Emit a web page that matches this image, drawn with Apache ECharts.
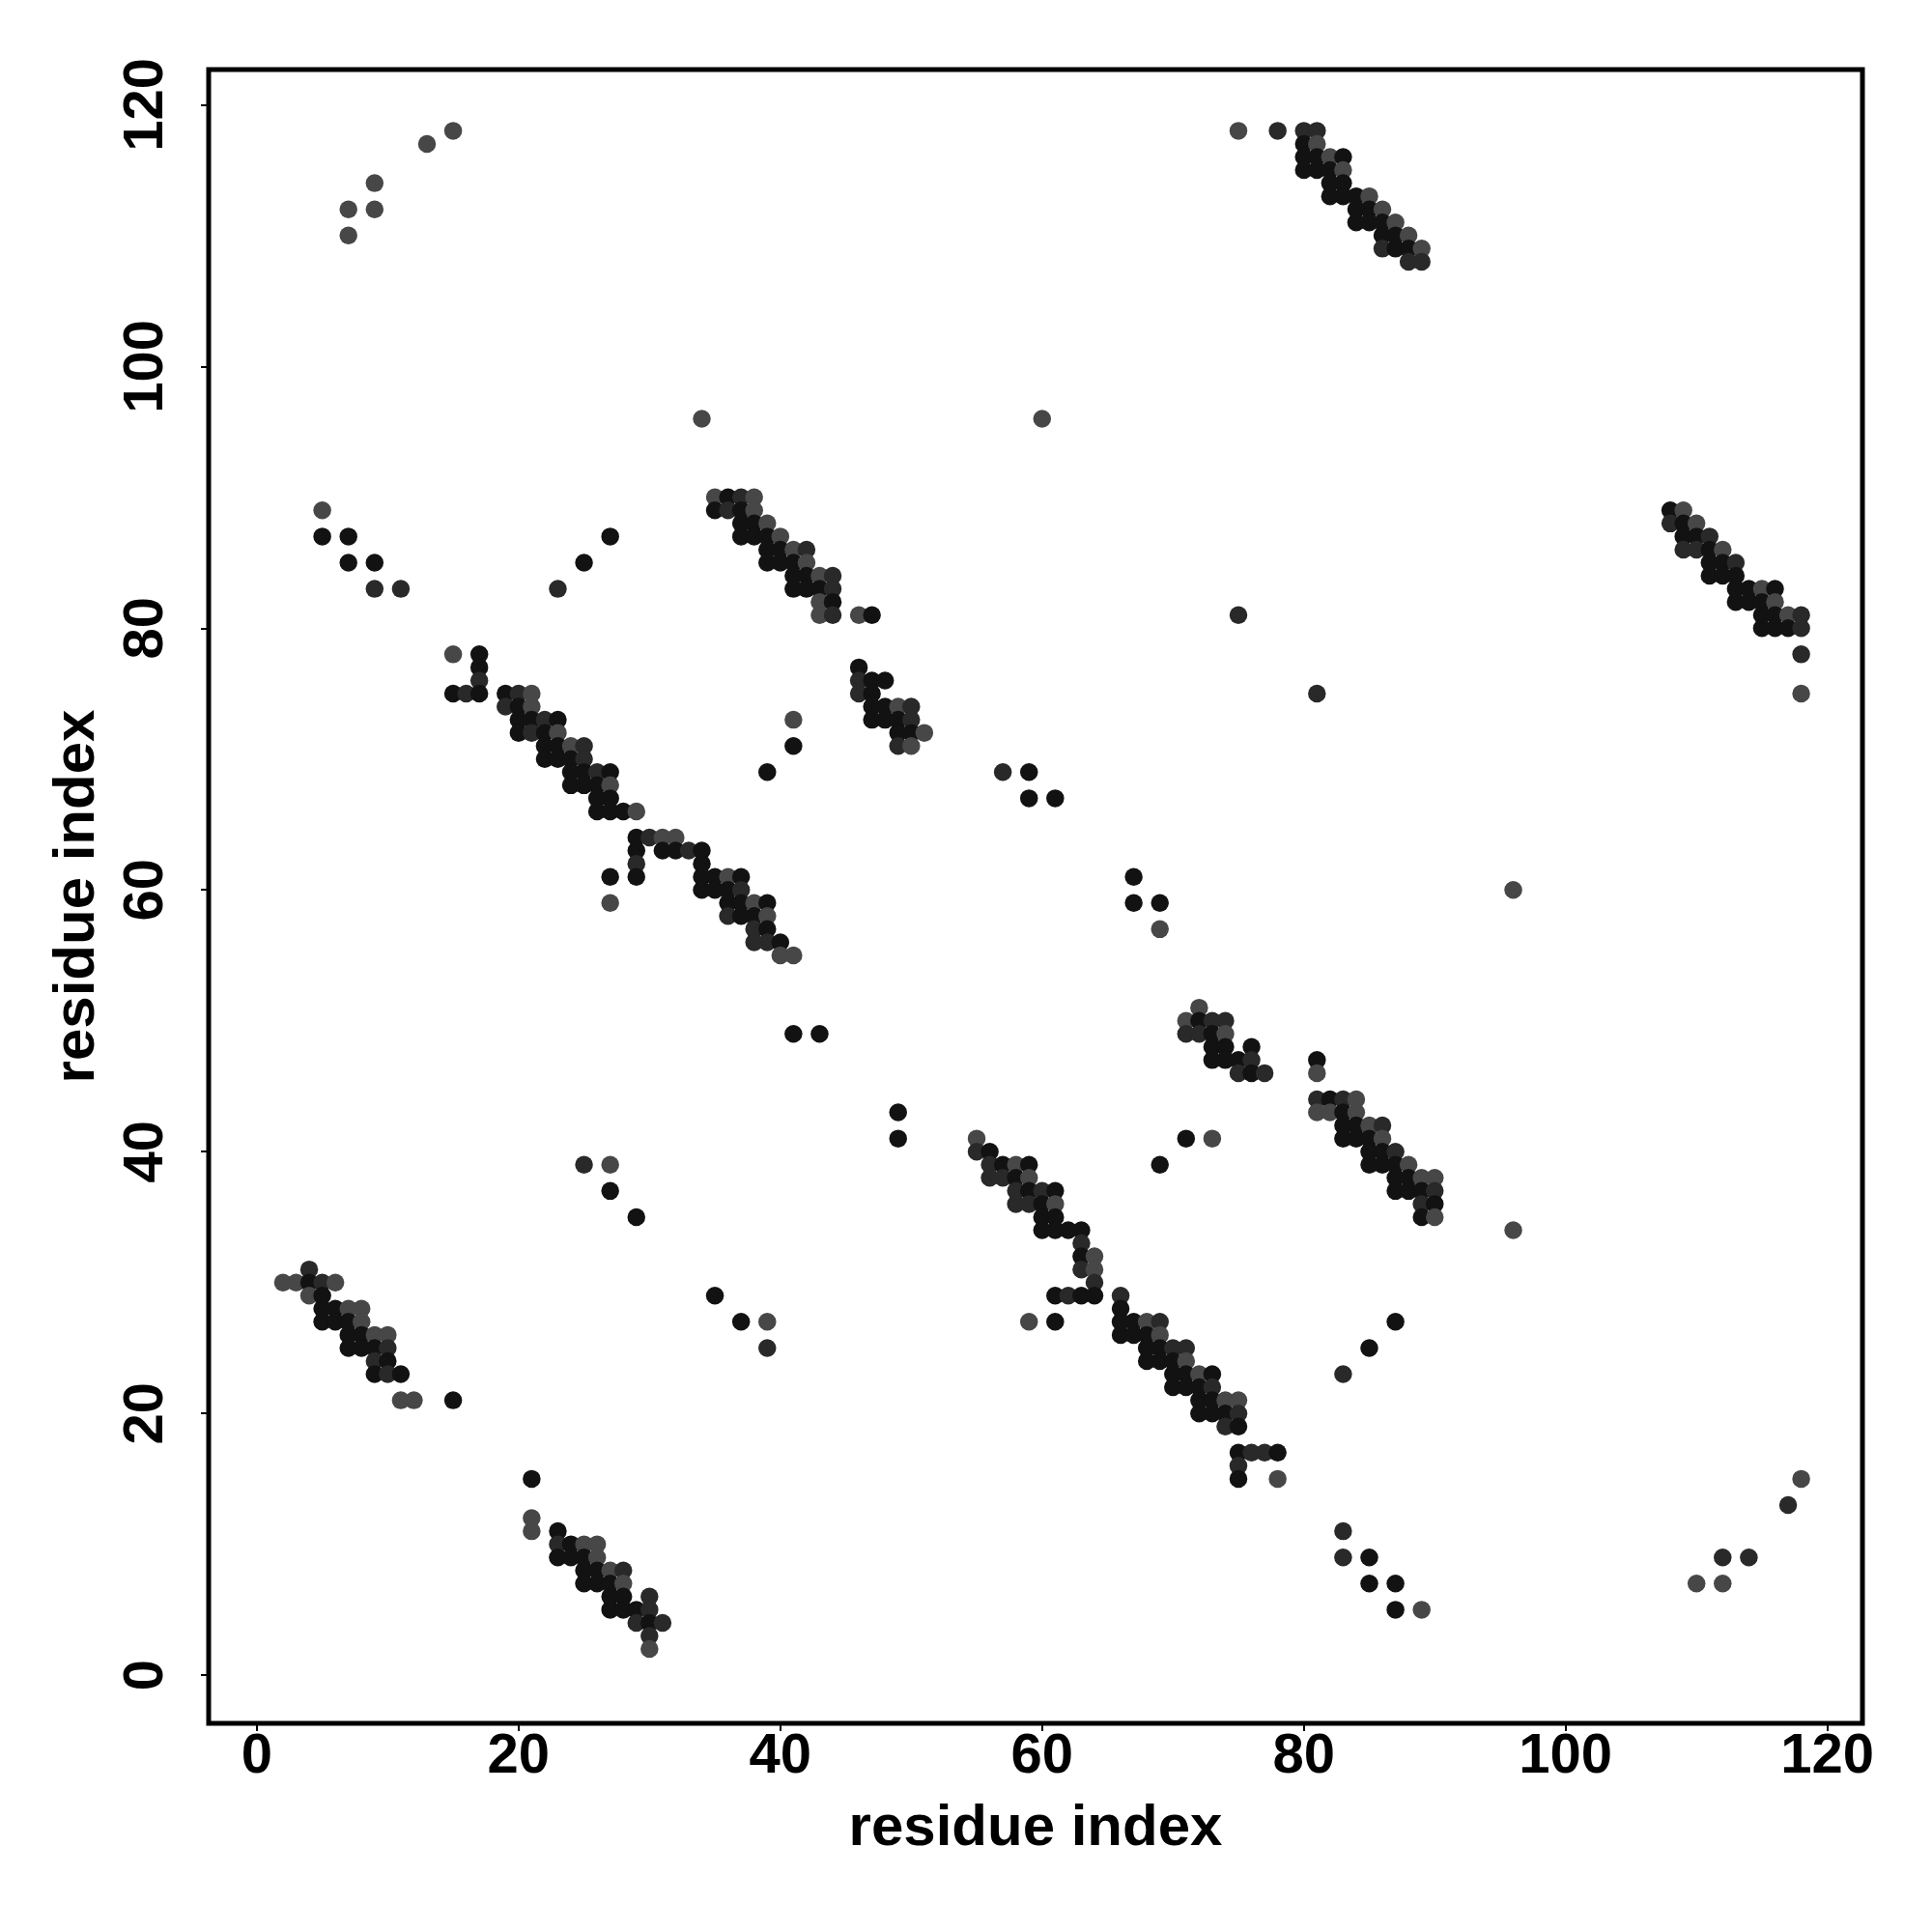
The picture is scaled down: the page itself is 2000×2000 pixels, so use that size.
<!DOCTYPE html>
<html><head><meta charset="utf-8">
<script src="https://cdn.jsdelivr.net/npm/echarts@6/dist/echarts.min.js"></script>
<style>html,body{margin:0;padding:0;background:#fff}#c{width:2000px;height:2000px}</style>
</head><body><div id="c"></div>
<script>
// tick labels
const tickValues = [0, 20, 40, 60, 80, 100, 120];
// shade levels: 1 = black, 2 = dark grey, 3 = grey
const shadeColors = {1: '#121212', 2: '#292929', 3: '#474747'};

// contacts [x, y, shade]
const clusterA = [
[75,118,3],[78,118,2],[80,118,2],[81,118,2],
[80,117,1],[81,117,3],
[80,116,1],[81,116,1],[82,116,3],[83,116,1],
[80,115,1],[81,115,1],[82,115,1],[83,115,3],
[82,114,1],[83,114,1],
[82,113,1],[83,113,1],[84,113,1],[85,113,3],
[84,112,1],[85,112,1],[86,112,3],
[84,111,1],[85,111,1],[86,111,1],[87,111,3],
[86,110,1],[87,110,1],[88,110,3],
[86,109,2],[87,109,1],[88,109,1],[89,109,3],
[88,108,2],[89,108,2]
];
const clusterB = [
[35,90,3],[36,90,1],[37,90,2],[38,90,3],
[35,89,1],[36,89,2],[37,89,1],[38,89,3],
[37,88,1],[38,88,1],[39,88,3],
[37,87,1],[38,87,1],[39,87,1],[40,87,3],
[39,86,1],[40,86,1],[41,86,3],[42,86,2],
[39,85,1],[40,85,1],[41,85,1],[42,85,3],
[41,84,1],[42,84,1],[43,84,3],[44,84,2],
[41,83,1],[42,83,1],[43,83,1],[44,83,2],
[43,82,3],[44,82,1],
[43,81,3],[44,81,2],[46,81,3],[47,81,1],
[46,77,1],
[46,76,2],[47,76,1],[48,76,1],
[46,75,2],[47,75,1],
[47,74,1],[48,74,1],[49,74,3],[50,74,2],
[47,73,1],[48,73,1],[49,73,1],[50,73,2],
[49,72,1],[50,72,1],[51,72,3],
[49,71,2],[50,71,3],
[41,73,3],[41,71,1],[39,69,1]
];
const clusterC = [
[15,78,3],[17,78,1],[17,77,1],[17,76,2],
[15,75,1],[16,75,2],[17,75,1],
[19,75,1],[20,75,2],[21,75,3],
[19,74,2],[20,74,1],[21,74,3],
[20,73,1],[21,73,1],[22,73,2],[23,73,1],
[20,72,1],[21,72,2],[22,72,1],[23,72,3],
[22,71,1],[23,71,1],[24,71,3],[25,71,2],
[22,70,1],[23,70,1],[24,70,1],[25,70,2],
[24,69,1],[25,69,1],[26,69,2],[27,69,1],
[24,68,1],[25,68,1],[26,68,1],[27,68,3],
[26,67,1],[27,67,1],
[26,66,1],[27,66,1],[28,66,1],[29,66,3],
[29,64,1],[30,64,2],[31,64,3],[32,64,3],
[29,63,1],[31,63,1],[32,63,1],[33,63,2],[34,63,1],
[29,62,2],[34,62,1],
[27,61,1],[29,61,1],[34,61,1],[35,61,1],[36,61,3],[37,61,1],
[34,60,1],[35,60,1],[36,60,1],[37,60,2],
[27,59,3],[36,59,1],[37,59,1],[38,59,3],[39,59,1],
[36,58,2],[37,58,1],[38,58,1],[39,58,3],
[38,57,2],[39,57,1],
[38,56,2],[39,56,2],[40,56,1],
[40,55,3],[41,55,3]
];
const clusterD = [
[108,89,1],[109,89,3],
[108,88,2],[109,88,1],[110,88,3],
[109,87,1],[110,87,1],[111,87,2],
[109,86,2],[110,86,2],[111,86,1],[112,86,3],
[111,85,1],[112,85,1],[113,85,2],
[111,84,1],[112,84,1],[113,84,1],
[113,83,1],[114,83,1],[115,83,3],[116,83,1],
[113,82,1],[114,82,1],[115,82,1],[116,82,3],
[115,81,1],[116,81,1],[117,81,3],[118,81,2],
[115,80,1],[116,80,1],[117,80,1],[118,80,2],
[118,78,2],[118,75,3]
];
const clusterE = [
[55,41,3],[55,40,2],[56,40,1],
[56,39,2],[57,39,1],[58,39,3],[59,39,1],
[56,38,2],[57,38,2],[58,38,1],[59,38,3],
[58,37,2],[59,37,1],[60,37,2],[61,37,1],
[58,36,2],[59,36,2],[60,36,1],[61,36,3],
[60,35,1],[61,35,1],
[60,34,1],[61,34,1],[62,34,1],[63,34,1],
[63,33,2],
[63,32,1],[64,32,3],
[63,31,2],[64,31,3],
[64,30,2],
[61,29,1],[62,29,2],[63,29,1],[64,29,1],
[59,27,3],[61,27,1],
[66,29,2],[66,28,1],
[66,27,1],[67,27,1],[68,27,3],[69,27,2],
[66,26,1],[67,26,1],[68,26,1],[69,26,3],
[68,25,1],[69,25,1],[70,25,2],[71,25,2],
[68,24,1],[69,24,1],[70,24,1],[71,24,3],
[70,23,1],[71,23,1],[72,23,3],[73,23,1],
[70,22,1],[71,22,1],[72,22,1],[73,22,2],
[72,21,1],[73,21,1],[74,21,3],[75,21,3],
[72,20,1],[73,20,1],[74,20,1],[75,20,2],
[74,19,2],[75,19,1],
[75,17,1],[76,17,2],[77,17,2],[78,17,1],
[75,16,2],
[75,15,1],[78,15,3]
];
const clusterF = [
[72,51,3],
[71,50,3],[72,50,1],[73,50,2],[74,50,2],
[71,49,2],[72,49,2],[73,49,1],[74,49,3],
[73,48,1],[74,48,1],[76,48,1],
[73,47,1],[74,47,1],[75,47,1],[76,47,2],
[75,46,2],[76,46,1],[77,46,2],
[81,47,1],[81,46,3],
[81,44,2],[82,44,1],[83,44,2],[84,44,3],
[81,43,3],[82,43,3],[83,43,1],[84,43,3],
[83,42,1],[84,42,1],[85,42,3],[86,42,2],
[83,41,1],[84,41,1],[85,41,1],[86,41,3],
[85,40,1],[86,40,1],[87,40,2],
[85,39,1],[86,39,1],[87,39,1],[88,39,3],
[87,38,1],[88,38,1],[89,38,3],[90,38,3],
[87,37,1],[88,37,1],[89,37,1],[90,37,2],
[89,36,2],[90,36,1],
[89,35,1],[90,35,3],
[71,41,1],[73,41,3],[69,39,1]
];
const clusterG = [
[4,31,2],
[2,30,3],[3,30,3],[4,30,1],[5,30,2],[6,30,3],
[4,29,3],[5,29,1],
[5,28,1],[6,28,1],[7,28,3],[8,28,3],
[5,27,1],[6,27,1],[7,27,1],[8,27,3],
[7,26,1],[8,26,1],[9,26,3],[10,26,3],
[7,25,1],[8,25,1],[9,25,1],[10,25,2],
[9,24,2],[10,24,1],
[9,23,1],[10,23,2],[11,23,1],
[11,21,3],[12,21,3],[15,21,1]
];
const clusterH = [
[21,15,1],[21,12,3],[21,11,3],
[23,11,1],
[23,10,2],[24,10,1],[25,10,3],[26,10,3],
[23,9,1],[24,9,1],[25,9,1],[26,9,3],
[25,8,1],[26,8,1],[27,8,3],[28,8,2],
[25,7,1],[26,7,1],[27,7,1],[28,7,3],
[27,6,1],[28,6,1],[30,6,2],
[27,5,1],[28,5,1],[29,5,1],[30,5,2],
[29,4,2],[30,4,1],[31,4,2],
[30,3,2],[30,2,3]
];
const sparse = [
[7,112,3],[7,110,3],[9,114,3],[9,112,3],[13,117,3],[15,118,3],
[34,96,3],[60,96,3],
[5,89,3],[5,87,1],[7,87,1],[7,85,1],[9,85,1],[9,83,2],[11,83,2],
[23,83,2],[25,85,1],[27,87,1],
[75,81,2],[81,75,2],
[57,69,2],[59,69,1],[59,67,1],[61,67,1],
[67,61,1],[67,59,1],[69,59,1],[69,57,3],
[96,60,3],[96,34,3],
[41,49,1],[43,49,1],[49,43,1],[49,41,1],
[25,39,2],[27,39,3],[27,37,1],[29,35,1],
[35,29,1],[37,27,1],[39,27,3],[39,25,2],
[87,27,1],[85,25,1],[83,23,2],
[83,11,2],[83,9,2],[85,9,1],[85,7,1],[87,7,1],[87,5,1],[89,5,3],
[110,7,3],[112,7,3],[112,9,2],[114,9,2],[117,13,2],[118,15,3]
];

const allPoints = [].concat(clusterA, clusterB, clusterC, clusterD, clusterE, clusterF, clusterG, clusterH, sparse)
  .slice().sort((a, b) => (a[0] - b[0]) || (b[1] - a[1]));

const fontFamily = '"Liberation Sans", Arial, Helvetica, sans-serif';
const labelFont = {fontFamily: fontFamily, fontWeight: 'bold', fontSize: 58, lineHeight: 58, color: '#000'};
const titleFont = {fontFamily: fontFamily, fontWeight: 'bold', fontSize: 60, lineHeight: 60, color: '#000'};
const chart = echarts.init(document.getElementById('c'), null, {renderer: 'canvas'});
chart.setOption({
  animation: false,
  backgroundColor: '#fff',
  grid: {left: 216, top: 72, right: 72, bottom: 216, show: true, borderColor: '#000', borderWidth: 5, backgroundColor: 'transparent', containLabel: false},
  xAxis: {
    type: 'value', min: -3.68, max: 122.68,
    splitLine: {show: false},
    axisLine: {show: false, onZero: false},
    axisTick: {show: true, customValues: tickValues, length: 8, lineStyle: {color: '#000', width: 2}},
    axisLabel: Object.assign({customValues: tickValues, margin: 6}, labelFont),
    name: 'residue index', nameLocation: 'middle', nameGap: 79,
    nameTextStyle: Object.assign({}, titleFont)
  },
  yAxis: {
    type: 'value', min: -3.68, max: 122.68,
    splitLine: {show: false},
    axisLine: {show: false, onZero: false},
    axisTick: {show: true, customValues: tickValues, length: 8, lineStyle: {color: '#000', width: 2}},
    axisLabel: Object.assign({customValues: tickValues, margin: 35, rotate: 90}, labelFont),
    name: 'residue index', nameLocation: 'middle', nameGap: 106,
    nameTextStyle: Object.assign({}, titleFont)
  },
  series: [{
    type: 'scatter',
    data: allPoints,
    symbol: 'circle',
    symbolSize: 18.5,
    itemStyle: {color: p => shadeColors[p.value[2]], opacity: 1},
    emphasis: {disabled: true}
  }]
});
</script>
</body></html>
